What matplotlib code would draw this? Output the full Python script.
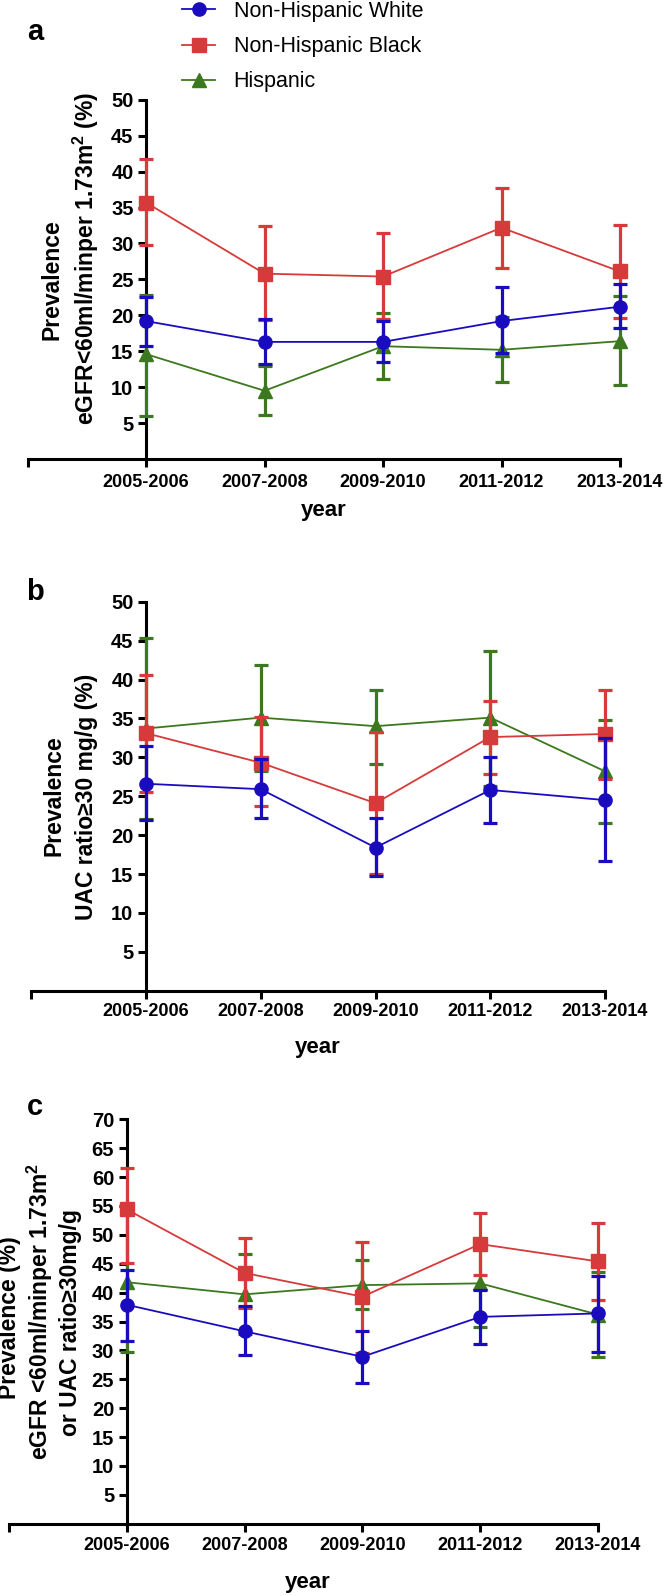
import numpy as np
import matplotlib.pyplot as plt

plt.rcParams['font.family'] = ['Liberation Sans', 'DejaVu Sans']
plt.rcParams['mathtext.fontset'] = 'custom'
plt.rcParams['mathtext.rm'] = 'Liberation Sans'
plt.rcParams['mathtext.bf'] = 'Liberation Sans:bold'

years = ['2005-2006', '2007-2008', '2009-2010', '2011-2012', '2013-2014']
groups = ['Non-Hispanic White', 'Non-Hispanic Black', 'Hispanic']
colors = ['#1a0cbe', '#d63a3a', '#3b781e']
markers = ['o', 's', '^']

# panel a: eGFR < 60
a_white = [19.2, 16.3, 16.3, 19.2, 21.2]
a_white_lo = [15.7, 13.2, 13.5, 14.7, 18.2]
a_white_hi = [22.6, 19.5, 19.2, 23.9, 24.4]
a_black = [35.7, 25.8, 25.4, 32.2, 26.1]
a_black_lo = [29.8, 19.3, 19.5, 26.6, 19.6]
a_black_hi = [41.8, 32.4, 31.4, 37.7, 32.6]
a_hisp = [14.6, 9.5, 15.7, 15.2, 16.4]
a_hisp_lo = [6.0, 6.1, 11.1, 10.7, 10.3]
a_hisp_hi = [22.8, 13.0, 20.3, 19.7, 22.7]

# panel b: UAC ratio >= 30
b_white = [26.6, 25.9, 18.4, 25.8, 24.5]
b_white_lo = [21.9, 22.2, 14.7, 21.6, 16.7]
b_white_hi = [31.4, 29.8, 22.2, 30.1, 32.5]
b_black = [33.1, 29.3, 24.1, 32.6, 33.0]
b_black_lo = [25.6, 23.7, 15.0, 27.9, 27.2]
b_black_hi = [40.6, 35.2, 33.3, 37.3, 38.7]
b_hisp = [33.7, 35.1, 34.0, 35.1, 28.2]
b_hisp_lo = [22.1, 28.3, 29.1, 26.3, 21.6]
b_hisp_hi = [45.3, 41.9, 38.7, 43.7, 34.8]

# panel c: either
c_white = [37.9, 33.3, 28.9, 35.8, 36.4]
c_white_lo = [31.7, 29.2, 24.3, 31.1, 29.8]
c_white_hi = [44.0, 37.6, 33.3, 40.5, 42.9]
c_black = [54.4, 43.4, 39.3, 48.4, 45.4]
c_black_lo = [45.2, 37.3, 29.5, 43.0, 38.7]
c_black_hi = [61.6, 49.5, 48.7, 53.7, 52.0]
c_hisp = [41.8, 39.7, 41.3, 41.6, 36.2]
c_hisp_lo = [29.8, 32.9, 37.2, 34.1, 28.9]
c_hisp_hi = [53.8, 46.6, 45.6, 49.1, 43.5]

W, H = 664, 1596
fig = plt.figure(figsize=(W / 100, H / 100), dpi=100)


def px(x, y):
    return x / W, 1 - y / H


def panel(left, right, top, bottom, ymax, series, tickpad):
    ax = fig.add_axes([left / W, 1 - bottom / H, (right - left) / W, (bottom - top) / H])
    x = np.arange(len(years))
    handles = {}
    for i in [2, 1, 0]:
        m, lo, hi = [np.array(v) for v in series[i]]
        h = ax.errorbar(x, m, yerr=[m - lo, hi - m], color=colors[i], marker=markers[i],
                        ms=9.5, lw=1.3, elinewidth=2.3,
                        capsize=4.8, capthick=2.3, label=groups[i], zorder=3 + (2 - i))
        line, caps, bars = h.lines
        for art in [line, *caps, *bars]:
            art.set_clip_on(False)
        handles[i] = line
    ax.set_xlim(-1, 4)
    ax.set_ylim(0, ymax)
    ax.spines['top'].set_visible(False)
    ax.spines['right'].set_visible(False)
    ax.spines['left'].set_position(('data', 0))
    for s in ['left', 'bottom']:
        ax.spines[s].set_linewidth(2.2)
    ax.set_xticks(range(-1, 5))
    ax.set_xticklabels([''] + years, fontsize=13, fontweight='bold')
    ax.set_yticks(np.arange(5, ymax + 1, 5))
    ax.tick_params(width=2.2, length=6)
    ax.tick_params(axis='x', pad=tickpad)
    ax.tick_params(axis='y', pad=3, labelsize=14.5)
    plt.setp(ax.get_yticklabels(), fontweight='bold')
    return ax, [handles[0], handles[1], handles[2]]


ax_a, hs = panel(27.5, 620, 99.8, 459, 50,
                 [(a_white, a_white_lo, a_white_hi), (a_black, a_black_lo, a_black_hi),
                  (a_hisp, a_hisp_lo, a_hisp_hi)], 4.5)
ax_b, _ = panel(31.25, 605, 601.7, 990.7, 50,
                [(b_white, b_white_lo, b_white_hi), (b_black, b_black_lo, b_black_hi),
                 (b_hisp, b_hisp_lo, b_hisp_hi)], 3.0)
ax_c, _ = panel(8.9, 598, 1119.3, 1523.7, 70,
                [(c_white, c_white_lo, c_white_hi), (c_black, c_black_lo, c_black_hi),
                 (c_hisp, c_hisp_lo, c_hisp_hi)], 3.5)

fig.legend(hs, groups, loc='upper left', bbox_to_anchor=px(182, 1), frameon=False,
           fontsize=15.5, handlelength=1.55, handletextpad=0.85, labelspacing=0.66,
           borderpad=0, borderaxespad=0)

# panel letters
for letter, (x, y) in zip('abc', [(27, 40), (26, 600), (27, 1115)]):
    fig.text(*px(x, y), letter, fontsize=21, fontweight='bold', va='baseline')

# x labels
for (x, y) in [(324, 516), (317.5, 1053), (307.5, 1588)]:
    fig.text(*px(x, y), 'year', fontsize=16, fontweight='bold', ha='center', va='baseline')

# y labels
ylabels = [
    ('Prevalence', 52, 279.5),
    (r'eGFR<60ml/minper 1.73m$^{\mathbf{2}}$ (%)', 86, 258.5),
    ('Prevalence', 54, 796),
    ('UAC ratio≥30 mg/g (%)', 86, 797),
    ('Prevalence (%)', 9.5, 1318),
    (r'eGFR <60ml/minper 1.73m$^{\mathbf{2}}$', 40, 1311),
    ('or UAC ratio≥30mg/g', 70, 1322),
]
for txt, x, y in ylabels:
    fig.text(*px(x, y), txt, fontsize=16.5, fontweight='bold', rotation=90,
             ha='center', va='center')

fig.savefig('out.png', dpi=100)
